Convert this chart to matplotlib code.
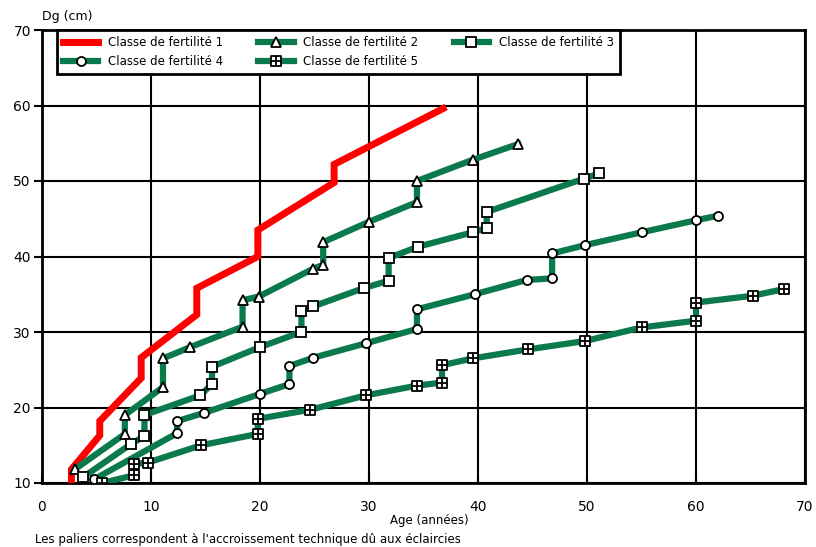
import numpy as np
import matplotlib.pyplot as plt
from matplotlib.path import Path

# classe 1 (trait rouge, sans marqueurs)
age1 = [2.7, 2.7, 5.3, 5.3, 9.1, 9.1, 14.2, 14.2, 19.8, 19.8, 26.8, 26.8, 36.8]
dg1 = [10.0, 11.8, 16.3, 18.2, 23.9, 26.6, 32.3, 35.8, 40.0, 43.5, 49.8, 52.2, 59.6]

# classe 2 (triangles)
age2 = [3.0, 7.6, 7.6, 11.1, 11.1, 13.6, 18.4, 18.4, 19.9, 24.9, 25.8, 25.8, 30.0, 34.4, 34.4, 39.5, 43.7]
dg2 = [11.8, 16.5, 19.0, 22.7, 26.5, 28.0, 30.7, 34.2, 34.7, 38.4, 38.9, 41.9, 44.6, 47.2, 50.0, 52.8, 54.9]

# classe 3 (carres)
age3 = [3.8, 8.2, 9.4, 9.4, 14.5, 15.6, 15.6, 20.0, 23.8, 23.8, 24.9, 29.5, 31.8, 31.8, 34.5, 39.5, 40.8, 40.8, 49.7, 51.1]
dg3 = [10.8, 15.2, 16.2, 19.0, 21.6, 23.1, 25.4, 28.0, 30.0, 32.8, 33.4, 35.8, 36.8, 39.8, 41.3, 43.2, 43.8, 45.9, 50.3, 51.0]

# classe 4 (cercles)
age4 = [4.8, 12.4, 12.4, 14.9, 20.0, 22.7, 22.7, 24.9, 29.7, 34.4, 34.4, 39.7, 44.5, 46.8, 46.8, 49.8, 55.0, 60.0, 62.0]
dg4 = [10.5, 16.6, 18.2, 19.3, 21.8, 23.1, 25.5, 26.6, 28.5, 30.4, 33.0, 35.0, 36.9, 37.1, 40.4, 41.5, 43.2, 44.8, 45.4]

# classe 5 (carres quadrilles)
age5 = [5.5, 8.4, 8.4, 9.7, 14.6, 19.8, 19.8, 24.6, 29.7, 34.4, 36.7, 36.7, 39.5, 44.6, 49.8, 55.0, 60.0, 60.0, 65.2, 68.1]
dg5 = [10.0, 11.0, 12.5, 12.7, 15.0, 16.5, 18.5, 19.7, 21.6, 22.9, 23.3, 25.6, 26.5, 27.7, 28.8, 30.6, 31.5, 33.9, 34.8, 35.7]

labels = ["Classe de fertilité 1", "Classe de fertilité 2", "Classe de fertilité 3",
          "Classe de fertilité 4", "Classe de fertilité 5"]

plt.rcParams['font.family'] = ['DejaVu Sans']

green = '#0a7a4c'
grid_sq = Path([(-1, -1), (1, -1), (1, 1), (-1, 1), (-1, -1), (-1, 0), (1, 0), (0, -1), (0, 1)],
               [Path.MOVETO, Path.LINETO, Path.LINETO, Path.LINETO, Path.CLOSEPOLY,
                Path.MOVETO, Path.LINETO, Path.MOVETO, Path.LINETO])

fig = plt.figure(figsize=(8.16, 5.47), dpi=100)
ax = fig.add_axes([42 / 816, 1 - 483 / 547, 763 / 816, 453 / 547])

mk = dict(markerfacecolor='white', markeredgecolor='black', markeredgewidth=1.3, markersize=6.5)
h1, = ax.plot(age1, dg1, color='red', lw=5, solid_joinstyle='miter', zorder=3)
h2, = ax.plot(age2, dg2, color=green, lw=4.5, marker='^', zorder=3, **mk)
h3, = ax.plot(age3, dg3, color=green, lw=4.5, marker='s', zorder=3, **mk)
h4, = ax.plot(age4, dg4, color=green, lw=4.5, marker='o', zorder=3, **mk)
h5, = ax.plot(age5, dg5, color=green, lw=4.5, marker=grid_sq, zorder=3, **mk)

ax.set_xlim(0, 70)
ax.set_ylim(10, 70)
ax.set_xticks(np.arange(0, 71, 10))
ax.set_yticks(np.arange(10, 71, 10))
ax.grid(True, color='black', lw=1.5)
ax.set_axisbelow(True)
for s in ax.spines.values():
    s.set_linewidth(2)
ax.tick_params(axis='y', direction='out', length=6, width=1.5, labelsize=10, pad=2)
ax.tick_params(axis='x', direction='in', length=5, width=1.5, labelsize=10, pad=12)

ax.set_xlabel('Age (années)', fontsize=8.5)
ax.xaxis.set_label_coords(0.508, -0.068)
ax.set_ylabel('Dg (cm)', fontsize=9, rotation=0, ha='left', va='center')
ax.yaxis.set_label_coords(0.0, 1.03)

leg = ax.legend([h1, h4, h2, h5, h3], [labels[0], labels[3], labels[1], labels[4], labels[2]],
                ncol=3, loc='upper left', bbox_to_anchor=(0.0197, 1.0), fontsize=8.5,
                frameon=True, fancybox=False, framealpha=1, edgecolor='black',
                handlelength=3.0, numpoints=1, borderpad=0.5, labelspacing=0.55,
                columnspacing=3.0, handletextpad=0.8, borderaxespad=0)
leg.get_frame().set_linewidth(2)
leg.set_zorder(5)

fig.text(35 / 816, 1 - 539 / 547,
         "Les paliers correspondent à l'accroissement technique dû aux éclaircies",
         fontsize=8.5, va='center', ha='left')

fig.savefig('out.png', dpi=100)
